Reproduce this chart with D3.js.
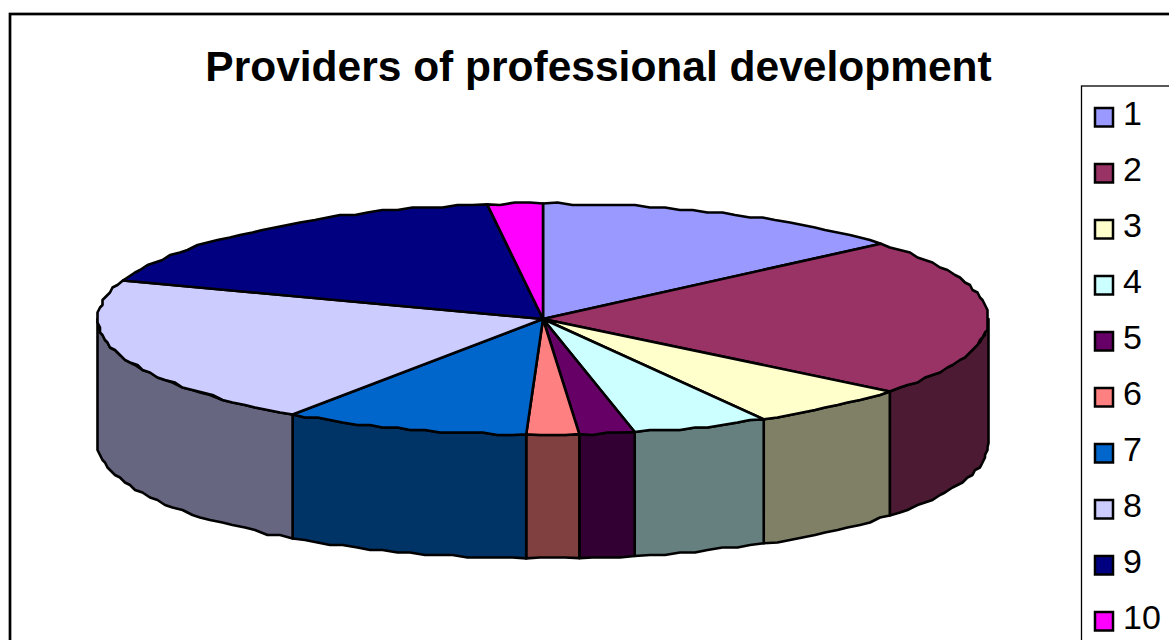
<!DOCTYPE html>
<html>
<head>
<meta charset="utf-8">
<script src="https://cdn.jsdelivr.net/npm/d3@7"></script>
<style>
html, body { margin: 0; padding: 0; background: #fff; overflow: hidden; }
svg { display: block; }
text { font-family: "Liberation Sans", Arial, sans-serif; fill: #000; }
</style>
</head>
<body>
<svg id="chart" width="1169" height="640"></svg>
<script>
const chartTitle = "Providers of professional development";
const categories = ["1", "2", "3", "4", "5", "6", "7", "8", "9", "10"];
const shares = [13.7, 22.1, 5.95, 4.95, 2.0, 1.9, 8.9, 20.9, 17.6, 2.0];
const topColors = ["#9999FF", "#993366", "#FFFFCC", "#CCFFFF", "#660066", "#FF8080", "#0066CC", "#CCCCFF", "#000080", "#FF00FF"];
const wallColors = ["#4D4D80", "#4D1A33", "#808066", "#668080", "#330033", "#804040", "#003366", "#666680", "#000040", "#800080"];

const svg = d3.select("#chart");

// Chart frame: the right and bottom edges run past the page
svg.append("rect")
  .attr("x", 10).attr("y", 14)
  .attr("width", 1300).attr("height", 800)
  .attr("fill", "#fff").attr("stroke", "#000").attr("stroke-width", 2.7);

svg.append("text")
  .attr("x", 598.5).attr("y", 81)
  .attr("text-anchor", "middle")
  .attr("font-size", 42.5).attr("font-weight", "bold")
  .text(chartTitle);

// Tilted pie: unit circle mapped on to an ellipse
const px = d3.scaleLinear().domain([-1, 1]).range([97.5, 988.5]);
const py = d3.scaleLinear().domain([-1, 1]).range([203.5, 434.5]);
const depth = 124;
const grid = 2.5; // outline is snapped to a coarse raster, giving its stepped look
const snap = v => Math.round(v / grid) * grid;

const pie = d3.pie().sort(null).value(d => d)(shares);

function rim(a0, a1, dy) {
  const n = Math.max(1, Math.ceil((a1 - a0) / (Math.PI / 90)));
  return d3.range(n + 1).map(i => {
    const a = a0 + (a1 - a0) * i / n;
    const edge = i === 0 || i === n;
    const x = px(Math.sin(a)), y = py(-Math.cos(a)) + dy;
    return edge ? [x, y] : [snap(x), snap(y)];
  });
}
const line = d3.line();
const outline = { stroke: "#000", "stroke-width": 2.6, "stroke-linejoin": "round" };

// Side walls, only on the front half of the disc
const walls = svg.append("g");
pie.forEach((s, i) => {
  const a0 = Math.max(s.startAngle, Math.PI / 2);
  const a1 = Math.min(s.endAngle, Math.PI * 1.5);
  if (a1 <= a0) return;
  const pts = rim(a0, a1, 0).concat(rim(a0, a1, depth).reverse());
  walls.append("path")
    .attr("d", line(pts) + "Z")
    .attr("fill", wallColors[i])
    .attr("stroke", outline.stroke)
    .attr("stroke-width", outline["stroke-width"])
    .attr("stroke-linejoin", outline["stroke-linejoin"]);
});

// Top face slices
const faces = svg.append("g");
pie.forEach((s, i) => {
  const pts = [[px(0), py(0)]].concat(rim(s.startAngle, s.endAngle, 0));
  faces.append("path")
    .attr("d", line(pts) + "Z")
    .attr("fill", topColors[i])
    .attr("stroke", outline.stroke)
    .attr("stroke-width", outline["stroke-width"])
    .attr("stroke-linejoin", outline["stroke-linejoin"]);
});

// Legend box, also cut off at the page edge
const legendY = d3.scalePoint().domain(categories).range([117, 621]);
svg.append("rect")
  .attr("x", 1081.5).attr("y", 86)
  .attr("width", 200).attr("height", 700)
  .attr("fill", "#fff").attr("stroke", "#000").attr("stroke-width", 1.3);

const entries = svg.append("g").selectAll("g").data(categories).join("g")
  .attr("transform", d => `translate(0,${legendY(d)})`);
entries.append("rect")
  .attr("x", 1095).attr("y", -9)
  .attr("width", 18).attr("height", 18.5)
  .attr("fill", (d, i) => topColors[i])
  .attr("stroke", "#000").attr("stroke-width", 2.5);
entries.append("text")
  .attr("x", 1123).attr("y", 8)
  .attr("font-size", 34)
  .text(d => d);
</script>
</body>
</html>
